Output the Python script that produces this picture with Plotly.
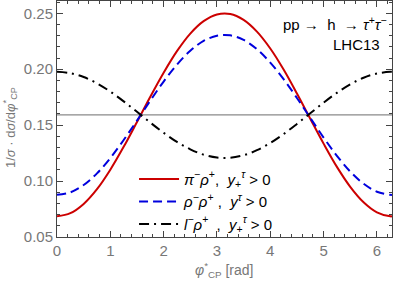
import plotly.graph_objects as go

phi = [0, 0.25, 0.5, 0.75, 1.0, 1.25, 1.5, 1.75, 2.0, 2.25, 2.5, 2.75, 3.0, 3.25,
       3.5, 3.75, 4.0, 4.25, 4.5, 4.75, 5.0, 5.25, 5.5, 5.75, 6.0, 6.25, 6.2832]
pi_rho = [0.0685, 0.0713, 0.0796, 0.0928, 0.1102, 0.1306, 0.1528, 0.1754, 0.1969,
          0.2162, 0.2319, 0.2430, 0.2490, 0.2494, 0.2441, 0.2336, 0.2185, 0.1997,
          0.1783, 0.1558, 0.1335, 0.1127, 0.0949, 0.0811, 0.0721, 0.0685, 0.0685]
rho_rho = [0.0877, 0.0899, 0.0965, 0.1069, 0.1206, 0.1367, 0.1541, 0.1719, 0.1890,
           0.2041, 0.2165, 0.2253, 0.2300, 0.2303, 0.2262, 0.2179, 0.2059, 0.1911,
           0.1743, 0.1565, 0.1389, 0.1226, 0.1085, 0.0976, 0.0905, 0.0877, 0.0877]
l_rho = [0.1977, 0.1965, 0.1930, 0.1874, 0.1800, 0.1713, 0.1619, 0.1523, 0.1432,
         0.1350, 0.1284, 0.1236, 0.1211, 0.1209, 0.1231, 0.1276, 0.1340, 0.1420,
         0.1511, 0.1606, 0.1701, 0.1789, 0.1865, 0.1924, 0.1962, 0.1977, 0.1977]
flat_level = 0.1592
x_ticks = [0, 1, 2, 3, 4, 5, 6]
y_ticks = [0.05, 0.10, 0.15, 0.20, 0.25]
y_tick_labels = ["0.05", "0.10", "0.15", "0.20", "0.25"]

names = [
    "<i>π</i><sup>−</sup><i>ρ</i><sup>+</sup>,  <i>y</i><sub>+</sub><sup><i>τ</i></sup> > 0",
    "<i>ρ</i><sup>−</sup><i>ρ</i><sup>+</sup> ,  <i>y</i><sup><i>τ</i></sup> > 0",
    "<i>l</i><sup>−</sup><i>ρ</i><sup>+</sup>  ,  <i>y</i><sub>+</sub><sup><i>τ</i></sup> > 0",
]

FONT = "Liberation Sans, Arial"

fig = go.Figure()
fig.add_trace(go.Scatter(x=[phi[0], phi[-1]], y=[flat_level, flat_level], mode="lines",
                         line=dict(color="#8a8a8a", width=1.2), showlegend=False, hoverinfo="skip"))
fig.add_trace(go.Scatter(x=phi, y=pi_rho, mode="lines", name=names[0],
                         line=dict(color="#cc0000", width=2, shape="spline")))
fig.add_trace(go.Scatter(x=phi, y=rho_rho, mode="lines", name=names[1],
                         line=dict(color="#0000dd", width=2, dash="9px,5px", shape="spline")))
fig.add_trace(go.Scatter(x=phi, y=l_rho, mode="lines", name=names[2],
                         line=dict(color="black", width=2, dash="10px,5px,2px,5px", shape="spline")))

axis_common = dict(showline=True, linecolor="#444", linewidth=1, mirror="ticks",
                   ticks="inside", ticklen=6, tickcolor="#444", showgrid=False, zeroline=False,
                   tickfont=dict(family=FONT, size=15, color="#777"),
                   minor=dict(ticks="inside", ticklen=3, tickcolor="#444", showgrid=False))

fig.update_xaxes(range=[0, 6.2832], tickvals=x_ticks, **axis_common)
fig.update_yaxes(range=[0.05, 0.261], tickvals=y_ticks, ticktext=y_tick_labels, **axis_common)
fig.update_xaxes(minor=dict(dtick=0.2, tick0=0))
fig.update_yaxes(minor=dict(dtick=0.01, tick0=0.05))

fig.update_layout(
    width=395, height=281,
    margin=dict(l=57, r=3, t=1, b=44),
    plot_bgcolor="white", paper_bgcolor="white",
    showlegend=True,
    legend=dict(x=0.23, y=0.315, xanchor="left", yanchor="top", bgcolor="rgba(0,0,0,0)",
                font=dict(family=FONT, size=15, color="black"),
                itemwidth=40, tracegroupgap=0),
    annotations=[
        dict(text="pp →  h  → <i>τ</i><sup>+</sup><i>τ</i><sup>−</sup>", xref="paper", yref="paper",
             x=0.99, y=0.903, xanchor="right", yanchor="middle", showarrow=False,
             font=dict(family=FONT, size=15, color="black")),
        dict(text="LHC13", xref="paper", yref="paper",
             x=0.97, y=0.814, xanchor="right", yanchor="middle", showarrow=False,
             font=dict(family=FONT, size=15, color="black")),
        dict(text="<i>φ</i><sup>*</sup><sub>CP</sub> [rad]", xref="paper", yref="paper",
             x=0.5, y=-0.14, xanchor="center", yanchor="middle", showarrow=False,
             font=dict(family=FONT, size=14, color="#777")),
        dict(text="1/<i>σ</i> · d<i>σ</i>/d<i>φ</i><sup>*</sup><sub>CP</sub>", xref="paper", yref="paper",
             x=-0.14, y=0.462, xanchor="center", yanchor="middle", textangle=-90, showarrow=False,
             font=dict(family=FONT, size=13, color="#777")),
    ],
)

fig.write_html("out.html", config={"displayModeBar": False})

with open("out.html", "r", encoding="utf-8") as f:
    html = f.read()
html = html.replace("<head>", "<head><style>html,body{margin:0;padding:0;overflow:hidden;}</style>", 1)
with open("out.html", "w", encoding="utf-8") as f:
    f.write(html)
